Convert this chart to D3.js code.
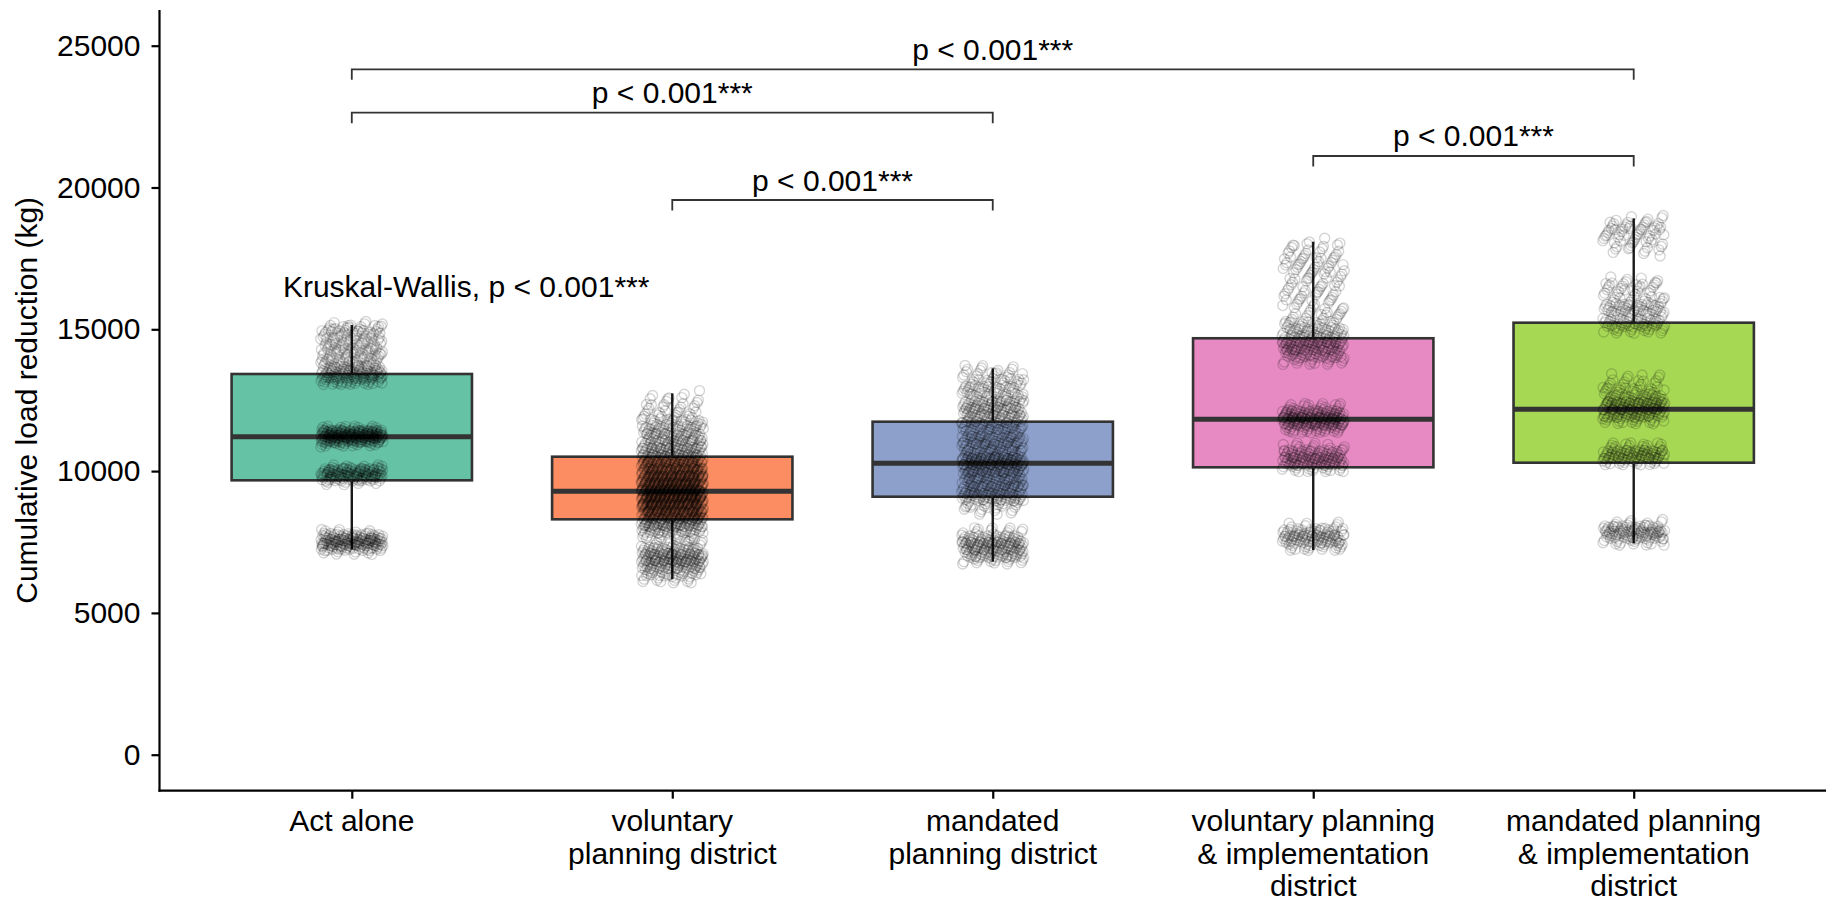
<!DOCTYPE html>
<html>
<head>
<meta charset="utf-8">
<script src="https://cdn.jsdelivr.net/npm/d3@7"></script>
<style>
  html, body { margin: 0; padding: 0; background: #fff; }
  svg { display: block; }
  text { font-family: "Liberation Sans", Arial, Helvetica, sans-serif; }
</style>
</head>
<body>
<svg id="chart" width="1839" height="904"></svg>
<script>
// ---------------- data ----------------
const categories = ["Act alone", "voluntary planning district", "mandated planning district",
  "voluntary planning & implementation district", "mandated planning & implementation district"];
const categoryLabelLines = [
  ["Act alone"],
  ["voluntary", "planning district"],
  ["mandated", "planning district"],
  ["voluntary planning", "& implementation", "district"],
  ["mandated planning", "& implementation", "district"]
];
const q1Values       = [9675, 8300, 9097, 10134, 10296];
const medianValues   = [11213, 9288, 10275, 11826, 12179];
const q3Values       = [13424, 10508, 11742, 14684, 15233];
const whiskerLow     = [7243, 6185, 6805, 7218, 7454];
const whiskerHigh    = [15152, 12743, 13624, 18089, 18914];
const yTickValues    = [0, 5000, 10000, 15000, 20000, 25000];
const yAxisTitle     = "Cumulative load reduction (kg)";

// observed point density: [value (kg), number of points] per group
const pointsActAlone = [[7200,15],[7350,40],[7500,60],[7650,40],[7800,15],
  [9650,15],[9800,40],[9950,60],[10100,20],
  [11000,30],[11150,80],[11300,100],[11450,30],
  [13200,40],[13400,50],[13600,30],[13800,25],[14000,20],[14200,20],[14400,20],[14600,20],[14800,20],[15000,20],[15150,8]];
const pointsVoluntary = [[6200,15],[6450,30],[6700,50],[6950,60],[7200,40],[7450,15],[7700,20],[7950,40],
  [8200,60],[8450,80],[8700,90],[8950,100],[9200,110],[9450,100],[9700,90],[9950,80],[10200,70],[10450,60],
  [10700,45],[10950,40],[11200,35],[11450,30],[11700,25],[11950,15],[12200,12],[12450,8],[12700,4]];
const pointsMandated = [[6850,20],[7100,40],[7350,55],[7600,40],[7850,15],
  [8600,10],[8850,20],[9100,45],[9350,40],[9600,35],[9850,40],[10100,50],[10350,70],[10600,35],
  [10850,35],[11100,35],[11350,30],[11600,30],[11850,35],[12100,40],[12350,35],[12600,25],[12850,25],
  [13100,20],[13350,15],[13600,10]];
const pointsVoluntaryImpl = [[7350,25],[7600,45],[7850,35],[8050,10],
  [10100,25],[10350,50],[10600,40],[10850,15],
  [11500,35],[11750,70],[12000,60],[12250,20],
  [13900,20],[14150,35],[14400,45],[14650,40],[14900,30],[15150,20],
  [15400,12],[15650,10],[15900,10],[16150,10],[16400,10],[16650,10],[16900,10],[17150,12],[17400,12],[17650,10],[17900,8],[18100,4]];
const pointsMandatedImpl = [[7500,20],[7750,40],[7950,40],[8150,10],
  [10350,30],[10600,50],[10850,20],
  [11800,25],[12050,45],[12300,55],[12550,30],[12800,20],[13050,12],[13300,8],
  [15000,20],[15250,30],[15500,20],[15750,30],[16000,15],[16250,12],[16500,15],[16700,8],
  [17700,6],[17950,10],[18200,15],[18450,12],[18650,18],[18900,6]];
const groupPoints = [pointsActAlone, pointsVoluntary, pointsMandated, pointsVoluntaryImpl, pointsMandatedImpl];

// pairwise comparisons (group indices), bracket heights (kg), labels
const comparisonPairs  = [[0, 4], [0, 2], [3, 4], [1, 2]];
const comparisonY      = [24168, 22637, 21111, 19559];
const comparisonLabels = ["p < 0.001***", "p < 0.001***", "p < 0.001***", "p < 0.001***"];
const kruskalLabel = "Kruskal-Wallis, p < 0.001***";
const kruskalY = 16150;

const fillColors = ["#66C2A5", "#FC8D62", "#8DA0CB", "#E78AC3", "#A6D854"];

// ---------------- layout ----------------
const svg = d3.select("#chart");
const FONT = 30;
const panelLeft = 159.5, panelRight = 1826, panelTop = 10, panelBottom = 790.7;

const y = d3.scaleLinear().domain([0, 25000]).range([754.7, 45.7]);
const x = d3.scalePoint().domain(categories).range([panelLeft, panelRight]).padding(0.6);
const step = x.step();
const boxW = step * 0.75;
const jit = step * 0.097;

// boxes
const g = svg.append("g");
categories.forEach((c, i) => {
  const cx = x(c);
  g.append("line").attr("x1", cx).attr("x2", cx)
    .attr("y1", y(q3Values[i])).attr("y2", y(whiskerHigh[i]))
    .attr("stroke", "#1a1a1a").attr("stroke-width", 2.4);
  g.append("line").attr("x1", cx).attr("x2", cx)
    .attr("y1", y(q1Values[i])).attr("y2", y(whiskerLow[i]))
    .attr("stroke", "#1a1a1a").attr("stroke-width", 2.4);
  g.append("rect")
    .attr("x", cx - boxW / 2).attr("width", boxW)
    .attr("y", y(q3Values[i])).attr("height", y(q1Values[i]) - y(q3Values[i]))
    .attr("fill", fillColors[i]).attr("stroke", "#333").attr("stroke-width", 2.6);
  g.append("line")
    .attr("x1", cx - boxW / 2).attr("x2", cx + boxW / 2)
    .attr("y1", y(medianValues[i])).attr("y2", y(medianValues[i]))
    .attr("stroke", "#333").attr("stroke-width", 5);
});

// jittered points (deterministic low-discrepancy jitter)
const pts = [];
let k = 0;
const a1 = 0.7548776662466927, a2 = 0.5698402909980532;
groupPoints.forEach((bins, i) => {
  bins.forEach(([v, n]) => {
    for (let j = 0; j < n; j++) {
      k++;
      const u = (0.5 + a1 * k) % 1;
      const w = (0.5 + a2 * k) % 1;
      pts.push({ g: i, v: v + (w - 0.5) * 300, dx: (u - 0.5) * 2 * jit });
    }
  });
});
svg.append("g").selectAll("circle").data(pts).join("circle")
  .attr("cx", d => x(categories[d.g]) + d.dx)
  .attr("cy", d => y(d.v))
  .attr("r", 5)
  .attr("fill", "none")
  .attr("stroke", "#000")
  .attr("stroke-opacity", 0.17)
  .attr("stroke-width", 1.4);

// axes
const axisColor = "#000";
svg.append("line").attr("x1", panelLeft).attr("x2", panelLeft)
  .attr("y1", panelTop).attr("y2", panelBottom + 1)
  .attr("stroke", axisColor).attr("stroke-width", 2.2);
svg.append("line").attr("x1", panelLeft - 1).attr("x2", panelRight)
  .attr("y1", panelBottom).attr("y2", panelBottom)
  .attr("stroke", axisColor).attr("stroke-width", 2.2);

const yAxis = svg.append("g").attr("transform", `translate(${panelLeft},0)`)
  .call(d3.axisLeft(y).tickValues(yTickValues).tickSize(8).tickPadding(11).tickFormat(d3.format("d")));
yAxis.select(".domain").remove();
yAxis.selectAll(".tick line").attr("stroke", axisColor).attr("stroke-width", 2.2);
yAxis.selectAll(".tick text").attr("fill", "#000").style("font-size", FONT + "px")
  .style("font-family", '"Liberation Sans", Arial, sans-serif');

const xAxis = svg.append("g").attr("transform", `translate(0,${panelBottom})`)
  .call(d3.axisBottom(x).tickSize(8).tickFormat(""));
xAxis.select(".domain").remove();
xAxis.selectAll(".tick line").attr("stroke", axisColor).attr("stroke-width", 2.2);

categories.forEach((c, i) => {
  const t = svg.append("text").attr("x", x(c)).attr("y", 831)
    .attr("text-anchor", "middle").attr("fill", "#000").style("font-size", FONT + "px");
  categoryLabelLines[i].forEach((line, li) => {
    t.append("tspan").attr("x", x(c)).attr("y", 831 + li * 32.5).text(line);
  });
});

svg.append("text")
  .attr("transform", `translate(36.5,${(panelTop + panelBottom) / 2}) rotate(-90)`)
  .attr("text-anchor", "middle").attr("fill", "#000")
  .style("font-size", FONT + "px").text(yAxisTitle);

// comparison brackets
const tip = 10.5;
comparisonPairs.forEach(([a, b], i) => {
  const x1 = x(categories[a]), x2 = x(categories[b]), yy = y(comparisonY[i]);
  svg.append("path")
    .attr("d", `M${x1},${yy + tip}V${yy}H${x2}V${yy + tip}`)
    .attr("fill", "none").attr("stroke", "#333").attr("stroke-width", 1.8);
  svg.append("text").attr("x", (x1 + x2) / 2).attr("y", yy - 9.5)
    .attr("text-anchor", "middle").attr("fill", "#000")
    .style("font-size", FONT + "px").text(comparisonLabels[i]);
});

// Kruskal-Wallis annotation
svg.append("text")
  .attr("x", x(categories[0]) - step * 0.215)
  .attr("y", y(kruskalY))
  .attr("fill", "#000").style("font-size", FONT + "px")
  .text(kruskalLabel);
</script>
</body>
</html>
